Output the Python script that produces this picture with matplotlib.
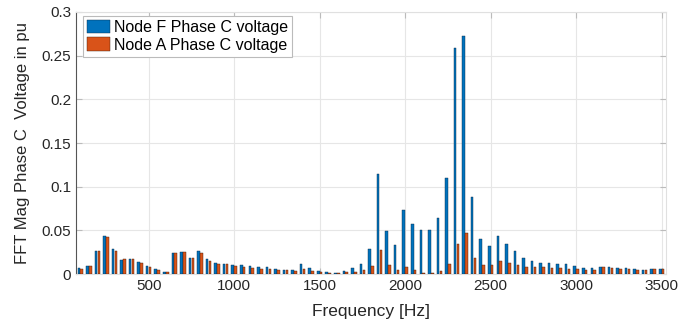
import numpy as np
import matplotlib
matplotlib.use("Agg")
import matplotlib.pyplot as plt

plt.rcParams['font.family'] = ['Liberation Sans', 'DejaVu Sans']

# harmonic frequencies (Hz)
freq = np.arange(100, 3550, 50)

node_f = [0.0065, 0.009, 0.026, 0.044, 0.029, 0.016, 0.017, 0.014, 0.009, 0.006,
          0.002, 0.024, 0.025, 0.019, 0.026, 0.017, 0.013, 0.011, 0.010, 0.010,
          0.009, 0.008, 0.008, 0.006, 0.005, 0.0046, 0.011, 0.0065, 0.003, 0.002,
          0.0015, 0.003, 0.0065, 0.012, 0.029, 0.115, 0.049, 0.033, 0.073, 0.057,
          0.050, 0.050, 0.064, 0.110, 0.259, 0.272, 0.088, 0.040, 0.032, 0.044,
          0.034, 0.027, 0.019, 0.015, 0.013, 0.013, 0.012, 0.011, 0.0096, 0.007,
          0.0065, 0.008, 0.008, 0.007, 0.0065, 0.0057, 0.005, 0.006, 0.006]

node_a = [0.006, 0.009, 0.026, 0.042, 0.026, 0.017, 0.017, 0.013, 0.008, 0.005,
          0.002, 0.024, 0.025, 0.019, 0.024, 0.015, 0.012, 0.011, 0.009, 0.008,
          0.007, 0.006, 0.006, 0.005, 0.0046, 0.004, 0.006, 0.004, 0.002, 0.0015,
          0.001, 0.002, 0.002, 0.0046, 0.009, 0.0275, 0.010, 0.0046, 0.0084, 0.0046,
          0.001, 0.001, 0.0034, 0.011, 0.035, 0.0466, 0.019, 0.010, 0.010, 0.015,
          0.013, 0.010, 0.008, 0.0076, 0.0076, 0.007, 0.007, 0.006, 0.0057, 0.005,
          0.005, 0.0076, 0.007, 0.006, 0.0057, 0.005, 0.005, 0.006, 0.006]

labels = ["Node F Phase C voltage", "Node A Phase C voltage"]

fig = plt.figure(figsize=(6.87, 3.24), dpi=100)
ax = fig.add_axes([0.1106, 0.154, 0.8588, 0.809])

w = 15
ax.bar(freq - 8.5, node_f, width=w, color='#0072BD', edgecolor='#0d2a44',
       linewidth=0.3, label=labels[0], zorder=3)
ax.bar(freq + 8.5, node_a, width=w, color='#D95319', edgecolor='#3a1a0a',
       linewidth=0.3, label=labels[1], zorder=3)

ax.set_xlim(75, 3525)
ax.set_ylim(0, 0.3)
ax.set_xticks([500, 1000, 1500, 2000, 2500, 3000, 3500])
ax.set_yticks([0, 0.05, 0.1, 0.15, 0.2, 0.25, 0.3])
ax.set_yticklabels(["0", "0.05", "0.1", "0.15", "0.2", "0.25", "0.3"])
ax.grid(True, color='#e6e6e6', linewidth=0.8, zorder=0)
ax.tick_params(direction='in', length=4, colors='#bbbbbb', labelcolor='#262626',
               labelsize=11, top=True, right=True)

for s in ['top', 'right', 'bottom']:
    ax.spines[s].set_color('#e0e0e0')
ax.spines['left'].set_color('#555555')

ax.set_xlabel("Frequency [Hz]", fontsize=12.5, color='#262626', labelpad=8)
ax.set_ylabel("FFT Mag Phase C  Voltage in pu", fontsize=12, color='#262626',
              labelpad=8)

leg = ax.legend(loc='upper left', bbox_to_anchor=(0.012, 0.985), borderaxespad=0,
                fontsize=11.5, fancybox=False, framealpha=1, edgecolor='#bbbbbb',
                handlelength=1.45, handleheight=0.9, borderpad=0.25,
                labelspacing=0.15, handletextpad=0.25)
leg.get_frame().set_linewidth(0.8)

fig.savefig("out.png", dpi=100)
